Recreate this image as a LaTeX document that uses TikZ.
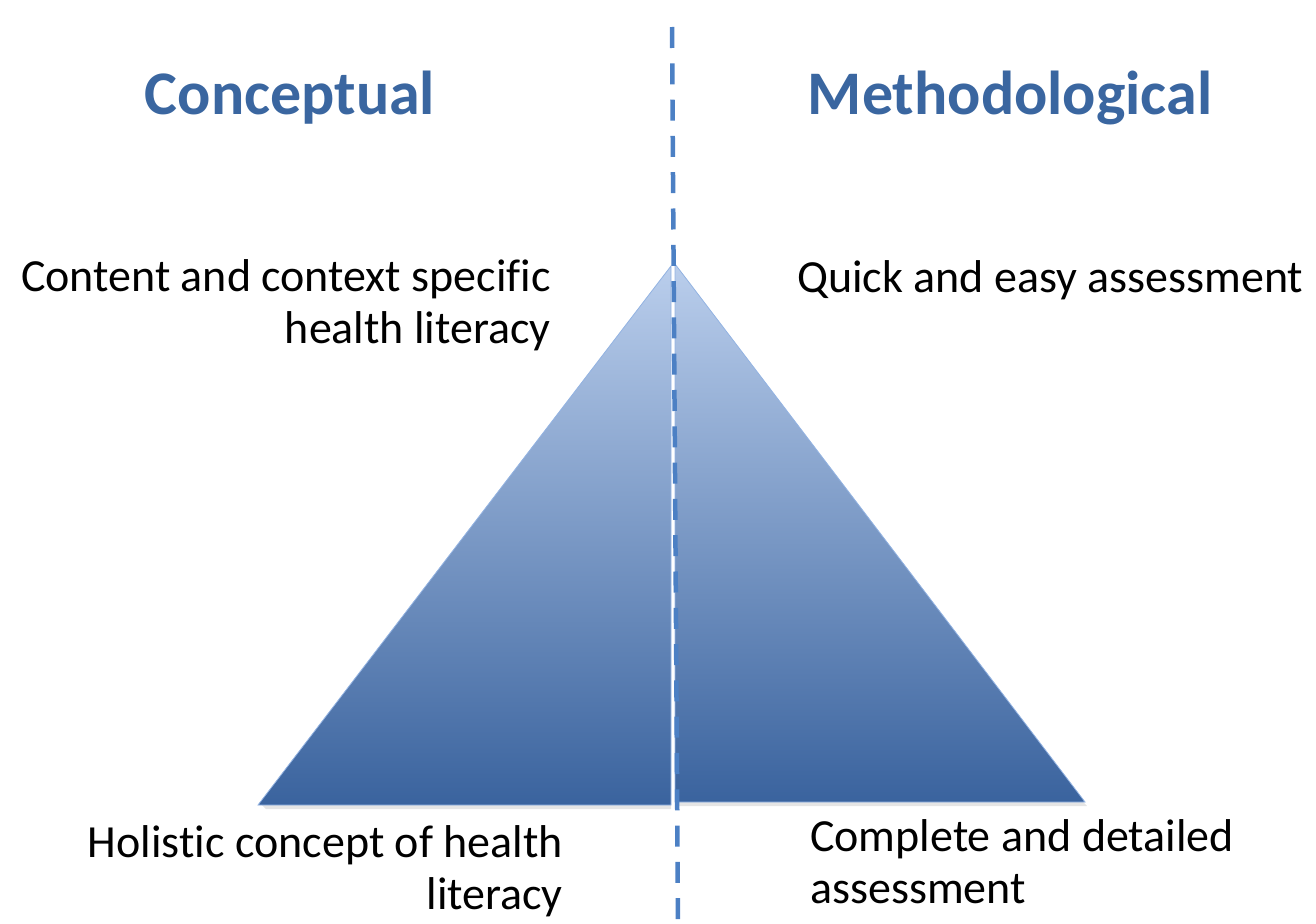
\documentclass[tikz,border=0pt]{standalone}
\usepackage{fontspec}
\setmainfont{Carlito}[Ligatures={NoCommon,NoContextual,NoRequired}]
\usepackage{tikz}
\usetikzlibrary{positioning}
\definecolor{headblue}{RGB}{58,102,160}
\definecolor{pyrtop}{RGB}{186,206,236}
\definecolor{pyrmid}{RGB}{108,153,216}
\definecolor{pyrbottom}{RGB}{58,99,158}
\definecolor{dashblue}{RGB}{76,128,196}

\begin{document}
\begin{tikzpicture}[x=1pt,y=-1pt,
headnode/.style={font=\fontsize{62}{70}\selectfont\bfseries, text=headblue, inner sep=0pt},
labelnode/.style={font=\fontsize{46}{52}\selectfont, text=black, inner sep=0pt},
halfpyramid/.style={top color=pyrtop, middle color=pyrmid, bottom color=pyrbottom, draw=pyrtop!50!pyrmid, line width=0.8pt},
divider/.style={draw=dashblue, line width=4.5pt, dash pattern=on 21pt off 15.3pt},
]
\useasboundingbox (0,0) rectangle (1316,923);

%Triangles
\fill[black!10] (262,805) -- (671,805) -- (671,809) -- (266,809) -- cycle;
\fill[black!10] (675,802) -- (1083,802) -- (1087,806) -- (675,806) -- cycle;
\shade[halfpyramid] (258,805) -- (671,266) -- (671,805) -- cycle;
\shade[halfpyramid] (675,264) -- (1085,802) -- (675,802) -- cycle;

%Nodes
\node[headnode, anchor=base] (concept) at (290,115) {Conceptual};
\node[headnode, anchor=base] (method) at (1010,115) {Methodological};
\node[labelnode, anchor=north east, align=right] (specific) at (551,259) {Content and context specific\\health literacy};
\node[labelnode, anchor=base west] (quick) at (797,292) {Quick and easy assessment};
\node[labelnode, anchor=north east, align=right] (holistic) at (563,825) {Holistic concept of health\\literacy};
\node[labelnode, anchor=north west, align=left] (complete) at (810,819) {Complete and detailed\\assessment};
\coordinate (divtop) at (672,27);
\coordinate (divbot) at (678,923);

%Lines
\draw[divider] (divtop) -- (divbot);
\end{tikzpicture}
\end{document}
